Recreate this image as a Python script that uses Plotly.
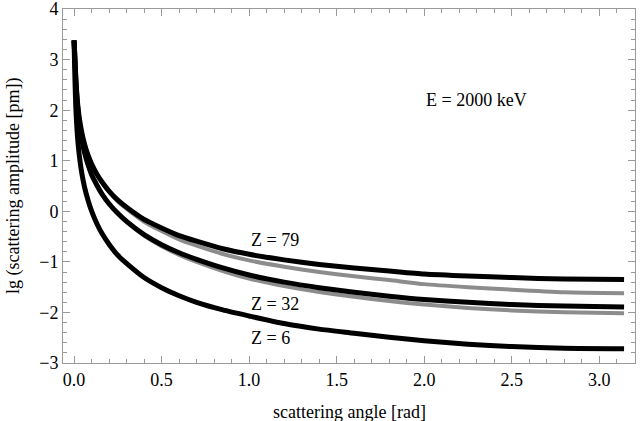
import plotly.graph_objects as go

# scattering angle [rad] sample points
angle = [0.0, 0.005, 0.01, 0.02, 0.03, 0.045, 0.06, 0.08, 0.1, 0.13, 0.16, 0.2, 0.25, 0.3, 0.4,
         0.5, 0.6, 0.7, 0.85, 1.0, 1.2, 1.4, 1.6, 1.8, 2.0, 2.25, 2.5, 2.8, 3.1416]

# lg(scattering amplitude [pm])
z79_black = [3.38, 3.03, 2.64, 2.15, 1.85, 1.55, 1.33, 1.11, 0.94, 0.74, 0.58, 0.40, 0.22, 0.08, -0.16,
             -0.33, -0.48, -0.59, -0.74, -0.85, -0.96, -1.05, -1.12, -1.18, -1.24, -1.28, -1.31, -1.34, -1.35]
z79_gray = [3.38, 3.03, 2.64, 2.15, 1.85, 1.55, 1.33, 1.11, 0.94, 0.74, 0.575, 0.39, 0.20, 0.05, -0.205,
            -0.39, -0.555, -0.68, -0.845, -0.97, -1.095, -1.20, -1.285, -1.36, -1.44, -1.50, -1.55, -1.60, -1.62]
z32_black = [3.38, 3.04, 2.63, 2.09, 1.75, 1.40, 1.16, 0.92, 0.73, 0.52, 0.34, 0.15, -0.04, -0.20, -0.46,
             -0.66, -0.82, -0.95, -1.12, -1.26, -1.40, -1.51, -1.60, -1.68, -1.745, -1.80, -1.845, -1.875, -1.89]
z32_gray = [3.38, 3.04, 2.63, 2.09, 1.75, 1.40, 1.16, 0.92, 0.73, 0.52, 0.34, 0.15, -0.045, -0.21, -0.48,
            -0.69, -0.86, -1.00, -1.18, -1.33, -1.48, -1.595, -1.69, -1.775, -1.845, -1.91, -1.96, -1.995, -2.015]
z6_black = [3.38, 2.64, 2.08, 1.47, 1.11, 0.74, 0.48, 0.22, 0.01, -0.24, -0.44, -0.65, -0.87, -1.03, -1.31,
            -1.51, -1.67, -1.80, -1.95, -2.07, -2.22, -2.33, -2.41, -2.49, -2.56, -2.63, -2.675, -2.71, -2.72]

labels = ["Z = 79", "Z = 32", "Z = 6"]
label_x = [1.0, 1.0, 1.0]
label_y = [-0.57, -1.83, -2.5]
energy_text = "E = 2000 keV"
x_title = "scattering angle [rad]"
y_title = "lg (scattering amplitude [pm])"

GRAY = "#8c8c8c"
FRAME = "#9a9a9a"
FONT = "Liberation Serif"
FS = 18

fig = go.Figure()
for ys in [z79_gray, z32_gray]:
    fig.add_trace(go.Scatter(x=angle, y=ys, mode="lines",
                             line=dict(color=GRAY, width=4, shape="spline", smoothing=0.6),
                             showlegend=False))
for ys in [z79_black, z32_black, z6_black]:
    fig.add_trace(go.Scatter(x=angle, y=ys, mode="lines",
                             line=dict(color="black", width=5, shape="spline", smoothing=0.6),
                             showlegend=False))

for t, lx, ly in zip(labels, label_x, label_y):
    fig.add_annotation(x=lx, y=ly, text=t, showarrow=False, xanchor="left", yanchor="middle",
                       font=dict(family=FONT, size=FS, color="black"))
fig.add_annotation(x=2.0, y=2.2, text=energy_text, showarrow=False, xanchor="left", yanchor="middle",
                   font=dict(family=FONT, size=FS, color="black"))

# axis titles placed relative to the plot frame
fig.add_annotation(xref="paper", yref="paper", x=0.5, y=0, yshift=-49, text=x_title, showarrow=False,
                   xanchor="center", yanchor="middle", font=dict(family=FONT, size=FS, color="black"))
fig.add_annotation(xref="paper", yref="paper", x=0, y=0.5, xshift=-50, text=y_title, showarrow=False,
                   textangle=-90, xanchor="center", yanchor="middle",
                   font=dict(family=FONT, size=FS, color="black"))

axis_common = dict(showgrid=False, zeroline=False, showline=True, linecolor=FRAME, linewidth=1,
                   mirror="ticks", ticks="inside", tickcolor=FRAME, ticklen=7, tickwidth=1,
                   automargin=False, ticklabeloverflow="allow",
                   tickfont=dict(family=FONT, size=FS, color="black"))

fig.update_xaxes(range=[-0.063, 3.204], dtick=0.5, tick0=0, tickformat=".1f",
                 minor=dict(ticks="inside", dtick=0.1, ticklen=4, tickcolor=FRAME),
                 **axis_common)
fig.update_yaxes(range=[-3, 4.002], dtick=1, tick0=0,
                 minor=dict(ticks="inside", dtick=0.2, ticklen=4, tickcolor=FRAME),
                 **axis_common)

fig.update_layout(width=640, height=421, margin=dict(l=63, r=5, t=9, b=58),
                  plot_bgcolor="white", paper_bgcolor="white")

fig.write_html("out.html", config={"displayModeBar": False},
               post_script="document.body.style.margin='0';document.body.style.padding='0';")
